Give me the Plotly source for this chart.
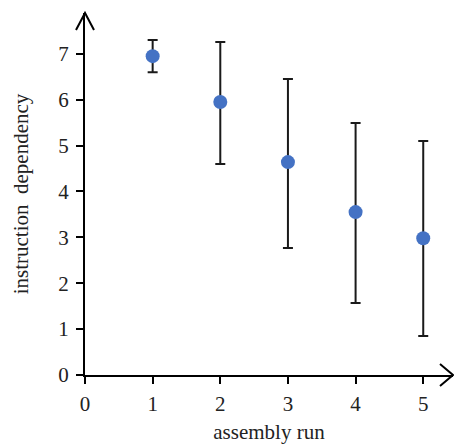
import plotly.graph_objects as go

runs = [1, 2, 3, 4, 5]
dependency = [6.95, 5.95, 4.64, 3.55, 2.98]
err_upper = [0.35, 1.31, 1.81, 1.94, 2.12]
err_lower = [0.35, 1.35, 1.87, 1.98, 2.13]
x_ticks = [0, 1, 2, 3, 4, 5]
y_ticks = [0, 1, 2, 3, 4, 5, 6, 7]

FONT = "Liberation Serif"
X_MAX = 5.44
Y_MAX = 7.89

fig = go.Figure()
fig.add_trace(go.Scatter(
    x=runs, y=dependency, mode="markers",
    marker=dict(color="#4472C4", size=14),
    error_y=dict(type="data", symmetric=False, array=err_upper, arrayminus=err_lower,
                 color="#1a1a1a", thickness=2, width=5),
    showlegend=False, cliponaxis=False,
))

axis_common = dict(
    showgrid=False, zeroline=False, showline=True, linecolor="black", linewidth=2,
    ticks="outside", ticklen=7, tickwidth=2, tickcolor="black",
    tickfont=dict(family=FONT, size=21, color="#222"),
    title_font=dict(family=FONT, size=21, color="#222"),
    automargin=False,
)
fig.update_xaxes(range=[0, X_MAX], tickvals=x_ticks, title_text="assembly run",
                 title_standoff=14, ticklabelstandoff=2, **axis_common)
fig.update_yaxes(range=[0, Y_MAX], tickvals=y_ticks, title_text="instruction&nbsp;&nbsp;dependency",
                 title_standoff=24, ticklabelstandoff=3, **axis_common)

# arrowheads (open chevrons) at axis ends
fig.add_shape(type="path", xref="paper", yref="paper", xsizemode="pixel", ysizemode="pixel",
              xanchor=1, yanchor=0, path="M -13 -11 L 0 0 L -13 11",
              line=dict(color="black", width=2))
fig.add_shape(type="path", xref="paper", yref="paper", xsizemode="pixel", ysizemode="pixel",
              xanchor=0, yanchor=1, path="M -9 -17 L 0 0 L 9 -17",
              line=dict(color="black", width=2))

fig.update_layout(
    width=454, height=444,
    margin=dict(l=85, r=1, t=13, b=69),
    plot_bgcolor="white", paper_bgcolor="white",
)
fig.write_html("out.html", config={"displayModeBar": False},
               post_script="document.body.style.margin='0px';")
